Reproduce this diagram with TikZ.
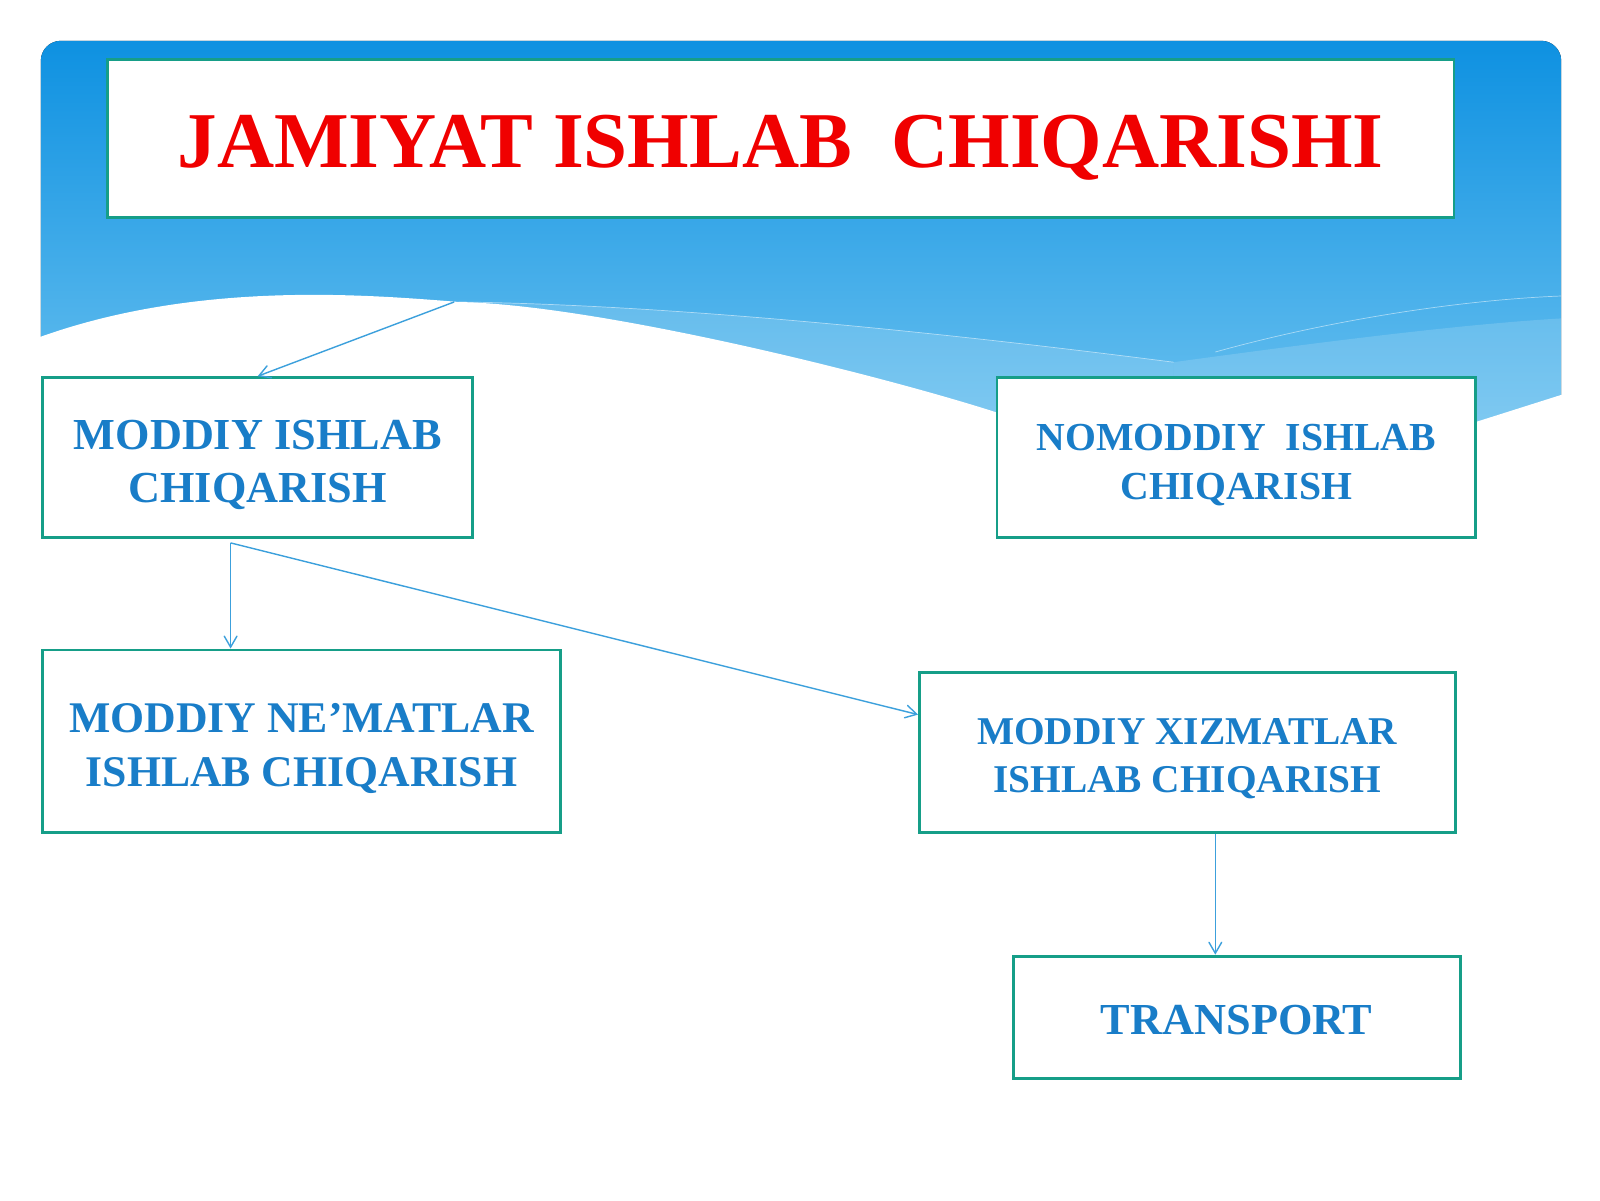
\documentclass[tikz,border=0pt]{standalone}
\usepackage{fontspec}
\setmainfont{Liberation Serif}
\usepackage{tikz}
\usetikzlibrary{arrows,positioning}

\definecolor{skytop}{RGB}{14,145,225}
\definecolor{skybottom}{RGB}{110,195,240}
\definecolor{boxline}{RGB}{22,158,136}
\definecolor{txtblue}{RGB}{25,125,200}
\definecolor{arrowblue}{RGB}{60,160,220}
\definecolor{titlered}{RGB}{240,0,0}

\newcommand{\lift}[1][4.2pt]{\rule{0pt}{\dimexpr0.66em+#1\relax}}

\begin{document}
\begin{tikzpicture}[->,>=angle 60,semithick,box/.style={draw=boxline,line width=0.8pt,fill=white,inner sep=0pt,align=center,text=txtblue,font=\bfseries},link/.style={draw=arrowblue,thin}]
	\useasboundingbox (0,0) rectangle (16,12);

	% banner with wave
	\fill[top color=skytop,bottom color=skybottom,rounded corners=0.2cm] (0.408,7.5) rectangle (15.612,11.592);
	\fill[white,opacity=0.15] (4.592,8.980) .. controls (7,8.95) and (10,8.6) .. (11.735,8.378) -- (11.735,7.5) -- (4.592,7.5) -- cycle;
	\fill[white,opacity=0.15] (11.735,8.378) .. controls (13,8.55) and (14.5,8.75) .. (15.612,8.816) -- (15.612,7.5) -- (11.735,7.5) -- cycle;
	\draw[-,white,opacity=0.5,very thin] (4.592,8.980) .. controls (7,8.95) and (10,8.6) .. (11.735,8.378);
	\draw[-,white,opacity=0.5,very thin] (12.153,8.48) .. controls (13.3,8.8) and (14.6,9.0) .. (15.612,9.04);
	\fill[white] (0.3,8.633) -- (0.408,8.633) .. controls (2.0,9.2) and (3.7,9.05) .. (4.592,8.980) .. controls (6.0,8.95) and (8.8,8.25) .. (9.959,7.878) .. controls (11.5,7.7) and (13.8,7.6) .. (14.776,7.786) -- (15.612,8.051) -- (15.7,8.051) -- (15.7,0) -- (0.3,0) -- cycle;

	\node[box,text=titlered,minimum width=13.469cm,minimum height=1.582cm,font=\bfseries\fontsize{22.5}{27}\selectfont]	(title)		at (7.806,10.617)	{\lift[5.6pt]JAMIYAT ISHLAB \ CHIQARISHI};
	\node[box,minimum width=4.296cm,minimum height=1.602cm,font=\bfseries\fontsize{12.6}{15.1}\selectfont]	(moddiy)	at (2.577,7.423)	{\lift MODDIY ISHLAB\\CHIQARISH};
	\node[box,minimum width=4.786cm,minimum height=1.602cm,font=\bfseries\fontsize{11.3}{13.7}\selectfont]	(nomoddiy)	at (12.362,7.423)	{\lift NOMODDIY \ ISHLAB\\CHIQARISH};
	\node[box,minimum width=5.173cm,minimum height=1.827cm,font=\bfseries\fontsize{12.45}{15.4}\selectfont]	(nematlar)	at (3.015,4.587)	{\lift MODDIY NE’MATLAR\\ISHLAB CHIQARISH};
	\node[box,minimum width=5.357cm,minimum height=1.602cm,font=\bfseries\fontsize{11.2}{13.7}\selectfont]	(xizmat)	at (11.873,4.474)	{\lift[3.4pt]MODDIY XIZMATLAR\\ISHLAB CHIQARISH};
	\node[box,minimum width=4.469cm,minimum height=1.224cm,font=\bfseries\fontsize{12.6}{15}\selectfont]	(transport)	at (12.367,1.827)	{\lift[1.4pt]TRANSPORT};

	\coordinate (wave)	at (4.541,8.980);
	\coordinate (split)	at (2.306,6.571);

	\path
		(wave)		edge	[link]	(moddiy.north)
		(split)		edge	[link]	(split |- nematlar.north)
		(split)		edge	[link]	([yshift=3.8mm]xizmat.west)
		([xshift=2.8mm]xizmat.south)	edge	[link]	([xshift=2.8mm]xizmat.south |- transport.north)
	;
\end{tikzpicture}
\end{document}
